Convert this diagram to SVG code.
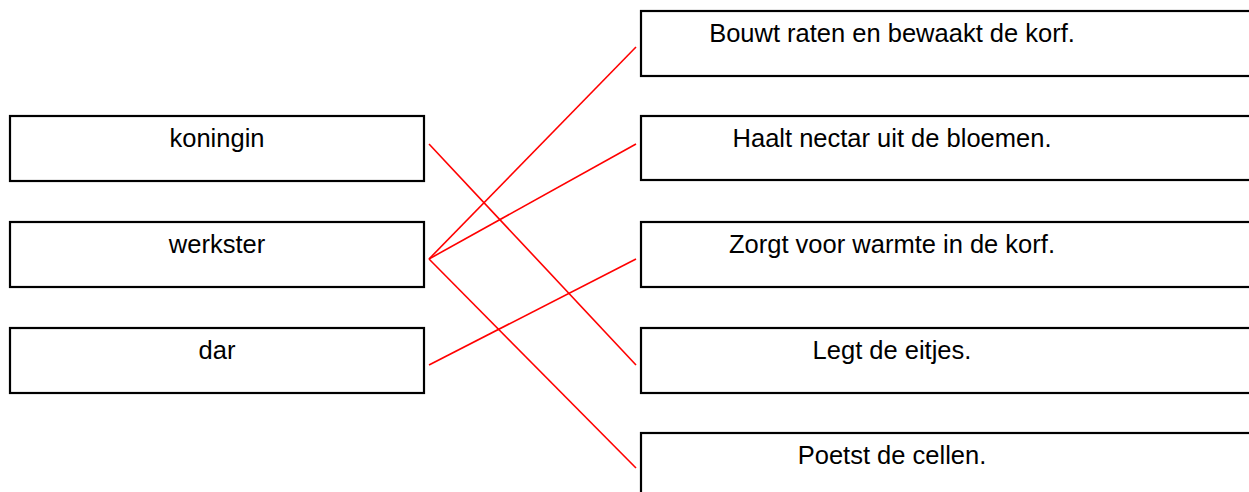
<svg xmlns="http://www.w3.org/2000/svg" width="1249" height="492" viewBox="0 0 1249 492">
<style>
.box{fill:#fff;stroke:#000;stroke-width:2.2}
.lbl{font-family:"Liberation Sans",Arial,sans-serif;font-size:25.5px;fill:#000;text-anchor:middle}
.link{stroke:#f00;stroke-width:1.6;fill:none}
</style>
<rect width="1249" height="492" fill="#fff"/>
<g id="koningin"><rect class="box" x="10" y="116" width="414" height="65"/><text class="lbl" x="217" y="147">koningin</text></g>
<g id="werkster"><rect class="box" x="10" y="222" width="414" height="65"/><text class="lbl" x="217" y="253">werkster</text></g>
<g id="dar"><rect class="box" x="10" y="328" width="414" height="65"/><text class="lbl" x="217" y="359">dar</text></g>
<g id="bouwt"><rect class="box" x="641" y="11" width="630" height="65"/><text class="lbl" x="892" y="42">Bouwt raten en bewaakt de korf.</text></g>
<g id="haalt"><rect class="box" x="641" y="116" width="630" height="64"/><text class="lbl" x="892" y="147">Haalt nectar uit de bloemen.</text></g>
<g id="zorgt"><rect class="box" x="641" y="222" width="630" height="65"/><text class="lbl" x="892" y="253">Zorgt voor warmte in de korf.</text></g>
<g id="legt"><rect class="box" x="641" y="328" width="630" height="65"/><text class="lbl" x="892" y="359">Legt de eitjes.</text></g>
<g id="poetst"><rect class="box" x="641" y="433" width="630" height="80"/><text class="lbl" x="892" y="464">Poetst de cellen.</text></g>
<g id="connectors">
<line class="link" x1="429" y1="144" x2="636" y2="365"/>
<line class="link" x1="429" y1="259" x2="636" y2="47"/>
<line class="link" x1="429" y1="259" x2="636" y2="144"/>
<line class="link" x1="429" y1="259" x2="636" y2="468"/>
<line class="link" x1="429" y1="365" x2="636" y2="259"/>
</g>
</svg>
